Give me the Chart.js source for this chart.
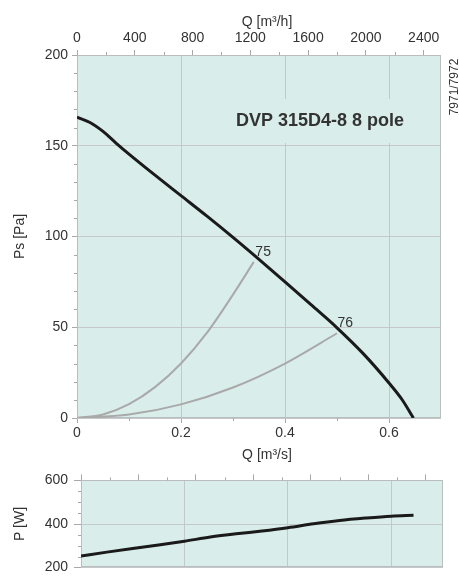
<!DOCTYPE html>
<html><head><meta charset="utf-8">
<script src="https://cdn.jsdelivr.net/npm/chart.js@4/dist/chart.umd.min.js"></script>
<style>
html,body{margin:0;padding:0;background:#fff;width:459px;height:582px;overflow:hidden;}
canvas{position:absolute;left:0;}
#c1{top:0;} #c2{top:466px;}
</style></head><body>
<canvas id="c1" width="459" height="466"></canvas>
<canvas id="c2" width="459" height="116"></canvas>
<script>
// ---- data ----
const fanQ  = [0, 0.025, 0.05, 0.075, 0.1, 0.15, 0.2, 0.25, 0.3, 0.35, 0.4, 0.45, 0.5, 0.55, 0.6, 0.625, 0.647];
const fanPs = [165.7, 162.8, 157.9, 151.5, 145.4, 133.8, 122.5, 111.2, 99.5, 87.4, 75, 62.4, 49.7, 35.6, 19.3, 10.2, 0];
const sys75Q  = [0, 0.05, 0.1, 0.15, 0.2, 0.25, 0.3, 0.34];
const sys75Ps = [0, 1.9, 7.6, 17, 30, 47, 68, 86];
const sys76Q  = [0, 0.1, 0.2, 0.3, 0.4, 0.5];
const sys76Ps = [0, 1.9, 7.5, 16.8, 30, 46.7];
const opLabels = ['75', '76'];
const opQ  = [0.343, 0.501];
const opPs = [88.9, 49.6];
const powQ = [0, 0.05, 0.1, 0.15, 0.2, 0.25, 0.3, 0.35, 0.4, 0.45, 0.5, 0.55, 0.6, 0.643];
const powP = [253, 271, 288, 304, 321, 340, 355, 368, 383, 401, 416, 427, 436, 440];

const qTicks  = [0, 0.2, 0.4, 0.6];
const qLabels = ['0', '0.2', '0.4', '0.6'];
const qMinor  = [0.1, 0.3, 0.5];
const qhTicks  = [0, 400, 800, 1200, 1600, 2000, 2400];
const qhLabels = ['0', '400', '800', '1200', '1600', '2000', '2400'];
const qhMinor  = [200, 600, 1000, 1400, 1800, 2200];
const psTicks  = [0, 50, 100, 150, 200];
const psLabels = ['0', '50', '100', '150', '200'];
const psMinor  = [10,20,30,40,60,70,80,90,110,120,130,140,160,170,180,190];
const pTicks  = [200, 400, 600];
const pLabels = ['200', '400', '600'];
const pMinor  = [250, 300, 350, 450, 500, 550];

const chartTitle = 'DVP 315D4-8 8 pole';
const sideNote = '7971/7972';

// ---- styles ----
const FONT = '"Liberation Sans", Arial, sans-serif';
const TXT = '#333';
const BG = '#d9eeeb';
const GRID = '#c4c8c8';
const TICK = '#a8a8a8';
const BORDER = '#b9bdbd';
Chart.defaults.font.family = FONT;
Chart.defaults.font.size = 14;
Chart.defaults.color = TXT;

const pts = (xs, ys) => xs.map((x, i) => ({x, y: ys[i]}));
const setTicks = arr => s => { s.ticks = arr.map(v => ({value: v})); };

const framePlugin = {
  id: 'frame',
  beforeDraw(chart) {
    const a = chart.chartArea, c = chart.ctx;
    c.save(); c.fillStyle = BG;
    c.fillRect(a.left, a.top, a.right - a.left, a.bottom - a.top);
    c.restore();
  },
  beforeDatasetsDraw(chart, args, opts) {
    const a = chart.chartArea, c = chart.ctx;
    c.save();
    c.strokeStyle = BORDER; c.lineWidth = 1;
    c.strokeRect(Math.round(a.left) + 0.5, Math.round(a.top) + 0.5,
                 Math.round(a.right - a.left) - 1, Math.round(a.bottom - a.top) - 1);
    c.strokeStyle = TICK;
    (opts.minor || []).forEach(m => {
      const s = chart.scales[m.id];
      m.values.forEach(v => {
        const p = Math.round(s.getPixelForValue(v)) + 0.5;
        c.beginPath();
        if (s.position === 'left') { c.moveTo(s.right - m.len, p); c.lineTo(s.right, p); }
        else if (s.position === 'top') { c.moveTo(p, s.bottom - m.len); c.lineTo(p, s.bottom); }
        else { c.moveTo(p, s.top); c.lineTo(p, s.top + m.len); }
        c.stroke();
      });
    });
    if (opts.title) {
      c.font = 'bold 18px ' + FONT;
      c.textAlign = 'center'; c.textBaseline = 'middle';
      const w = c.measureText(opts.title.text).width;
      c.fillStyle = BG;
      c.fillRect(opts.title.x - w / 2 - 6, opts.title.y - 22, w + 12, 44);
      c.fillStyle = TXT;
      c.fillText(opts.title.text, opts.title.x, opts.title.y);
    }
    c.restore();
  },
  afterDraw(chart, args, opts) {
    const c = chart.ctx;
    c.save();
    c.fillStyle = TXT;
    c.font = '14px ' + FONT;
    c.textAlign = 'center'; c.textBaseline = 'middle';
    (opts.xTitles || []).forEach(t => c.fillText(t.text, t.x, t.y));
    if (opts.labels) {
      const sx = chart.scales.x, sy = chart.scales.y;
      c.textAlign = 'left'; c.textBaseline = 'bottom';
      opts.labels.text.forEach((t, i) => {
        c.fillText(t, sx.getPixelForValue(opts.labels.x[i]), sy.getPixelForValue(opts.labels.y[i]) + 2);
      });
    }
    if (opts.note) {
      c.font = '12px ' + FONT;
      c.translate(opts.note.x, opts.note.y);
      c.rotate(-Math.PI / 2);
      c.textAlign = 'center'; c.textBaseline = 'middle';
      c.fillText(opts.note.text, 0, 0);
    }
    c.restore();
  }
};

const lineDs = (data, color, width) => ({
  data, borderColor: color, borderWidth: width, showLine: true, pointRadius: 0,
  cubicInterpolationMode: 'monotone', fill: false, xAxisID: 'x', yAxisID: 'y'
});

// ---- top chart ----
new Chart(document.getElementById('c1'), {
  type: 'scatter',
  data: { datasets: [
    lineDs(pts(sys75Q, sys75Ps), '#a9a9a9', 2),
    lineDs(pts(sys76Q, sys76Ps), '#a9a9a9', 2),
    lineDs(pts(fanQ, fanPs), '#1a1a1a', 3)
  ]},
  options: {
    responsive: false, animation: false,
    layout: { padding: { left: 0, right: 18, top: 0, bottom: 0 } },
    plugins: {
      legend: { display: false }, tooltip: { enabled: false },
      frame: {
        minor: [
          { id: 'x', values: qMinor, len: 3 },
          { id: 'xh', values: qhMinor, len: 3 },
          { id: 'y', values: psMinor, len: 3 }
        ],
        title: { text: chartTitle, x: 320, y: 121 },
        xTitles: [ { text: 'Q [m³/h]', x: 267, y: 22 }, { text: 'Q [m³/s]', x: 267, y: 455 } ],
        labels: { text: opLabels, x: opQ, y: opPs },
        note: { text: sideNote, x: 455, y: 87 }
      }
    },
    scales: {
      x: {
        type: 'linear', position: 'bottom', min: 0, max: 0.7,
        afterBuildTicks: setTicks(qTicks),
        afterFit: s => { s.height = 48; },
        ticks: { padding: 2, maxRotation: 0, callback: (v, i) => qLabels[i] },
        grid: { color: GRID, tickColor: TICK, tickLength: 5 },
        border: { display: false }
      },
      xh: {
        type: 'linear', position: 'top', min: 0, max: 2520,
        afterBuildTicks: setTicks(qhTicks),
        afterFit: s => { s.height = 55; },
        ticks: { padding: 3, maxRotation: 0, callback: (v, i) => qhLabels[i] },
        grid: { drawOnChartArea: false, tickColor: TICK, tickLength: 5 },
        border: { display: false }
      },
      y: {
        type: 'linear', position: 'left', min: 0, max: 200,
        afterBuildTicks: setTicks(psTicks),
        afterFit: s => { s.width = 77; },
        ticks: { padding: 4, callback: (v, i) => psLabels[i] },
        grid: { color: GRID, tickColor: TICK, tickLength: 5 },
        border: { display: false },
        title: { display: true, text: 'Ps [Pa]', font: { size: 14 }, padding: { top: 12, bottom: 0 } }
      }
    }
  },
  plugins: [framePlugin]
});

// ---- bottom chart ----
new Chart(document.getElementById('c2'), {
  type: 'scatter',
  data: { datasets: [ lineDs(pts(powQ, powP), '#1a1a1a', 3) ] },
  options: {
    responsive: false, animation: false,
    layout: { padding: { left: 0, right: 16, top: 0, bottom: 0 } },
    plugins: {
      legend: { display: false }, tooltip: { enabled: false },
      frame: {
        minor: [
          { id: 'xh', values: qhMinor, len: 3 },
          { id: 'y', values: pMinor, len: 3 }
        ]
      }
    },
    scales: {
      x: {
        type: 'linear', position: 'bottom', min: 0, max: 0.7,
        afterBuildTicks: setTicks(qTicks),
        afterFit: s => { s.height = 5; },
        ticks: { display: false },
        grid: { color: GRID, drawTicks: false },
        border: { display: false }
      },
      xh: {
        type: 'linear', position: 'top', min: 0, max: 2520,
        afterBuildTicks: setTicks(qhTicks),
        afterFit: s => { s.height = 10; },
        ticks: { display: false },
        grid: { drawOnChartArea: false, tickColor: TICK, tickLength: 6 },
        border: { display: false }
      },
      y: {
        type: 'linear', position: 'left', min: 200, max: 600,
        afterBuildTicks: setTicks(pTicks),
        afterFit: s => { s.width = 81; },
        ticks: { padding: 6, callback: (v, i) => pLabels[i] },
        grid: { color: GRID, tickColor: TICK, tickLength: 7 },
        border: { display: false },
        title: { display: true, text: 'P [W]', font: { size: 14 }, padding: { top: 12, bottom: 0 } }
      }
    }
  },
  plugins: [framePlugin]
});
</script>
</body></html>
